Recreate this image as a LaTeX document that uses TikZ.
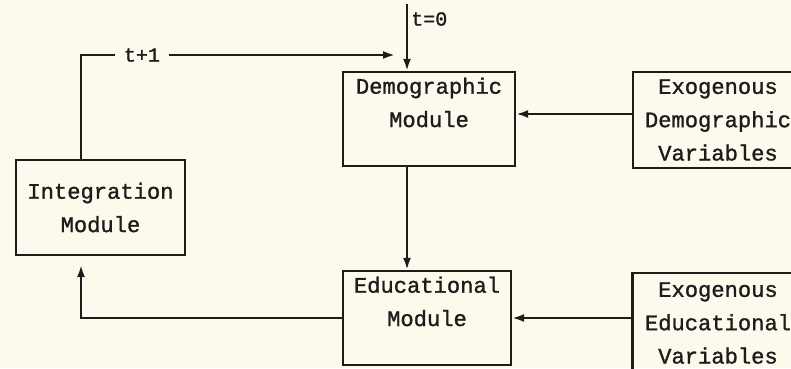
\documentclass[tikz,border=0pt]{standalone}
\usepackage{fontspec}
\setmonofont{Liberation Mono}[BoldFont=Liberation Mono,BoldFeatures={FakeBold=1.2}]
\usepackage{tikz}
\usetikzlibrary{arrows.meta}
\tikzset{>={Latex[length=9pt,width=6pt]}}
\definecolor{paper}{RGB}{252,249,237}
\definecolor{ink}{RGB}{30,28,26}

\begin{document}
\begin{tikzpicture}[x=0.75pt,y=-0.75pt,
  modbox/.style={draw=ink,line width=1.7pt,align=center,inner sep=0pt,text=ink,
    font=\ttfamily\bfseries\fontsize{16.6}{25}\selectfont},
  lbl/.style={text=ink,inner sep=0pt,font=\ttfamily\bfseries\fontsize{15}{15}\selectfont},
  conn/.style={->,draw=ink,line width=1.7pt}]
  \fill[paper] (0,0) rectangle (791,368);
  \useasboundingbox (0,0) rectangle (791,368);

  \node[modbox,minimum width=129pt,minimum height=70.5pt] (demo) at (429,119) {Demographic\\Module\\\mbox{}};
  \node[modbox,minimum width=127.5pt,minimum height=72pt] (exodemo) at (718,120) {Exogenous\\Demographic\\Variables};
  \node[modbox,minimum width=126.75pt,minimum height=71.25pt] (integ) at (100.5,207.5) {Integration\\Module};
  \node[modbox,minimum width=126pt,minimum height=70.5pt] (educ) at (427,318) {Educational\\Module\\\mbox{}};
  \node[modbox,minimum width=128.25pt,minimum height=75pt] (exoeduc) at (718,323) {Exogenous\\Educational\\Variables};

  \coordinate (t0) at (407,4);
  \coordinate (loop) at (81,55);
  \coordinate (t1end) at (395,55);
  \coordinate (intip) at (81,265);

  \node[lbl,anchor=west] (t0lbl) at (411,19) {t=0};
  \draw[conn] (t0) -- (t0 |- demo.north);
  \draw[conn] (integ.north -| loop) -- (loop)
    -- node[lbl,fill=paper,pos=0.194,inner xsep=6.75pt,inner ysep=3pt] (t1lbl) {t+1} (t1end);
  \draw[conn] ([yshift=4.5pt]exodemo.west) -- ([yshift=4.5pt]exodemo.west -| demo.east);
  \draw[conn] (demo.south -| t0) -- (educ.north -| t0);
  \draw[conn] (educ.east -| exoeduc.west) -- (educ.east);
  \draw[conn] (educ.west) -| (intip);
\end{tikzpicture}
\end{document}
